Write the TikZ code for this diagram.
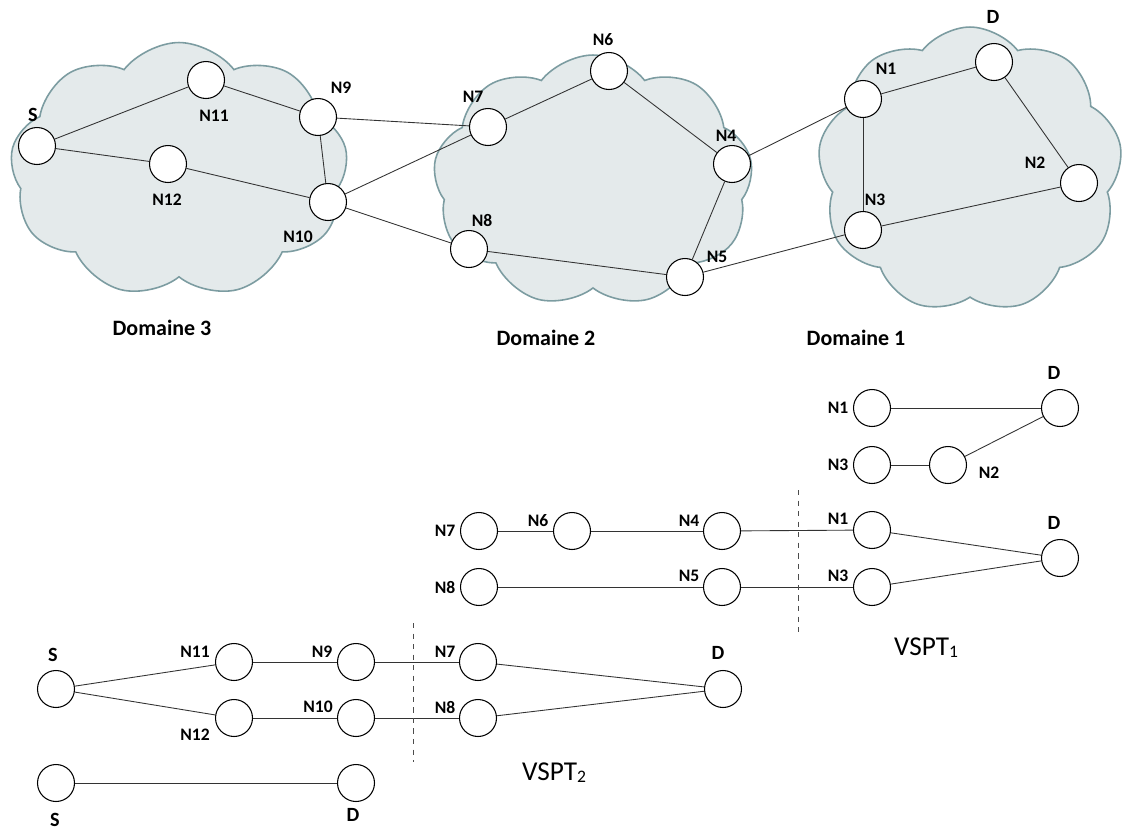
\documentclass[tikz,border=0pt]{standalone}
\usepackage{fontspec}
\setmainfont{Carlito}
\usepackage{tikz}
\usetikzlibrary{shapes.symbols}
\definecolor{cloudfill}{HTML}{E4EAEB}
\definecolor{cloudline}{HTML}{7C9CA1}

\begin{document}
\begin{tikzpicture}[x=0.02cm,y=-0.02cm]
\useasboundingbox (0,0) rectangle (1126,832);

% domains
\begin{scope}[every node/.style={cloud,cloud puffs=9,cloud puff arc=105,cloud ignores aspect,draw=cloudline,fill=cloudfill,line width=0.9pt}]
    \node[minimum width=6.76cm,minimum height=5.1cm] (C3) at (179,170) {};
    \node[minimum width=6.4cm,minimum height=5.04cm] (C2) at (593,181) {};
    \node[minimum width=6.1cm,minimum height=5.72cm] (C1) at (970,170) {};
\end{scope}

% routers
\begin{scope}[every node/.style={circle,draw,fill=white,minimum size=0.74cm,inner sep=0pt,line width=0.6pt}]
    \node (S) at (37,146) {};
    \node (N11) at (206,80) {};
    \node (N9) at (318,117) {};
    \node (N12) at (168,164) {};
    \node (N10) at (328,202) {};
    \node (N7) at (488,127) {};
    \node (N6) at (609,71) {};
    \node (N4) at (732,164) {};
    \node (N8) at (469,249) {};
    \node (N5) at (685,277) {};
    \node (N1) at (863,99) {};
    \node (D) at (994,62) {};
    \node (N2) at (1079,183) {};
    \node (N3) at (863,230) {};
    % VSPT1, domaine 1
    \node (a1) at (872,408) {};
    \node (aD) at (1060,408) {};
    \node (a3) at (872,465) {};
    \node (a2) at (948,465) {};
    % VSPT1, domaines 2 et 1
    \node (b7) at (479,531) {};
    \node (b6) at (572,531) {};
    \node (b4) at (722,531) {};
    \node (b1) at (872,530) {};
    \node (bD) at (1060,558) {};
    \node (b8) at (479,587) {};
    \node (b5) at (722,587) {};
    \node (b3) at (872,587) {};
    % VSPT2
    \node (cS) at (56,689) {};
    \node (c11) at (234,662) {};
    \node (c12) at (234,718) {};
    \node (c9) at (356,662) {};
    \node (c10) at (356,718) {};
    \node (c7) at (478,662) {};
    \node (c8) at (478,718) {};
    \node (cD) at (723,689) {};
    \node (dS) at (56,783) {};
    \node (dD) at (356,783) {};
\end{scope}

\begin{scope}[every edge/.style={draw=black!80,line width=0.5pt}]
    \path [-] (S) edge (N11);
    \path [-] (S) edge (N12);
    \path [-] (N11) edge (N9);
    \path [-] (N12) edge (N10);
    \path [-] (N9) edge (N10);
    \path [-] (N9) edge (N7);
    \path [-] (N10) edge (N7);
    \path [-] (N10) edge (N8);
    \path [-] (N7) edge (N6);
    \path [-] (N6) edge (N4);
    \path [-] (N4) edge (N5);
    \path [-] (N8) edge (N5);
    \path [-] (N4) edge (N1);
    \path [-] (N5) edge (N3);
    \path [-] (N1) edge (D);
    \path [-] (D) edge (N2);
    \path [-] (N1) edge (N3);
    \path [-] (N3) edge (N2);
    \path [-] (a1) edge (aD);
    \path [-] (a3) edge (a2);
    \path [-] (a2) edge (aD);
    \path [-] (b7) edge (b6);
    \path [-] (b6) edge (b4);
    \path [-] (b4) edge (b1);
    \path [-] (b1) edge (bD);
    \path [-] (b8) edge (b5);
    \path [-] (b5) edge (b3);
    \path [-] (b3) edge (bD);
    \path [-] (cS) edge (c11);
    \path [-] (cS) edge (c12);
    \path [-] (c11) edge (c9);
    \path [-] (c12) edge (c10);
    \path [-] (c9) edge (c7);
    \path [-] (c10) edge (c8);
    \path [-] (c7) edge (cD);
    \path [-] (c8) edge (cD);
    \path [-] (dS) edge (dD);
\end{scope}

% separations
\coordinate (cut1a) at (798,490);
\coordinate (cut1b) at (798,632);
\coordinate (cut2a) at (413,623);
\coordinate (cut2b) at (413,762);
\draw [dashed,black!70,line width=0.5pt] (cut1a) -- (cut1b);
\draw [dashed,black!70,line width=0.5pt] (cut2a) -- (cut2b);

% labels
\begin{scope}[every node/.style={font=\bfseries\fontsize{10}{10}\selectfont,inner sep=0pt}]
    \node (tS) at (33,115) {\fontsize{11.5}{12}\selectfont S};
    \node (t11) at (214,116) {N11};
    \node (t9) at (341,88) {N9};
    \node (t12) at (167,200) {N12};
    \node (t10) at (298,237) {N10};
    \node (t7) at (473,97) {N7};
    \node (t6) at (603,40) {N6};
    \node (t4) at (726,136) {N4};
    \node (t8) at (482,220) {N8};
    \node (t5) at (717,257) {N5};
    \node (t1) at (886,69) {N1};
    \node (tD) at (993,17) {\fontsize{11.5}{12}\selectfont D};
    \node (t2) at (1035,163) {N2};
    \node (t3) at (875,200) {N3};
    \node (ta1) at (838,408) {N1};
    \node (taD) at (1054,373) {\fontsize{11.5}{12}\selectfont D};
    \node (ta3) at (838,465) {N3};
    \node (ta2) at (989,473) {N2};
    \node (tb7) at (445,531) {N7};
    \node (tb6) at (538,521) {N6};
    \node (tb4) at (689,521) {N4};
    \node (tb1) at (838,519) {N1};
    \node (tbD) at (1054,523) {\fontsize{11.5}{12}\selectfont D};
    \node (tb8) at (445,587) {N8};
    \node (tb5) at (689,576) {N5};
    \node (tb3) at (838,576) {N3};
    \node (tcS) at (53,655) {\fontsize{11.5}{12}\selectfont S};
    \node (tc11) at (195,652) {N11};
    \node (tc12) at (195,735) {N12};
    \node (tc9) at (322,652) {N9};
    \node (tc10) at (318,707) {N10};
    \node (tc7) at (445,652) {N7};
    \node (tc8) at (445,707) {N8};
    \node (tcD) at (718,653) {\fontsize{11.5}{12}\selectfont D};
    \node (tdS) at (55,820) {\fontsize{11.5}{12}\selectfont S};
    \node (tdD) at (353,815) {\fontsize{11.5}{12}\selectfont D};
\end{scope}
\begin{scope}[every node/.style={font=\bfseries\fontsize{12.5}{13}\selectfont,inner sep=0pt}]
    \node (dom3) at (162,328) {Domaine 3};
    \node (dom2) at (546,338) {Domaine 2};
    \node (dom1) at (856,338) {Domaine 1};
\end{scope}
\begin{scope}[every node/.style={font=\fontsize{15.5}{16}\selectfont,inner sep=0pt}]
    \node (vspt1) at (926,648) {VSPT\raisebox{-1pt}{\fontsize{10}{10}\selectfont 1}};
    \node (vspt2) at (554,773) {VSPT\raisebox{-1pt}{\fontsize{10}{10}\selectfont 2}};
\end{scope}
\end{tikzpicture}
\end{document}
